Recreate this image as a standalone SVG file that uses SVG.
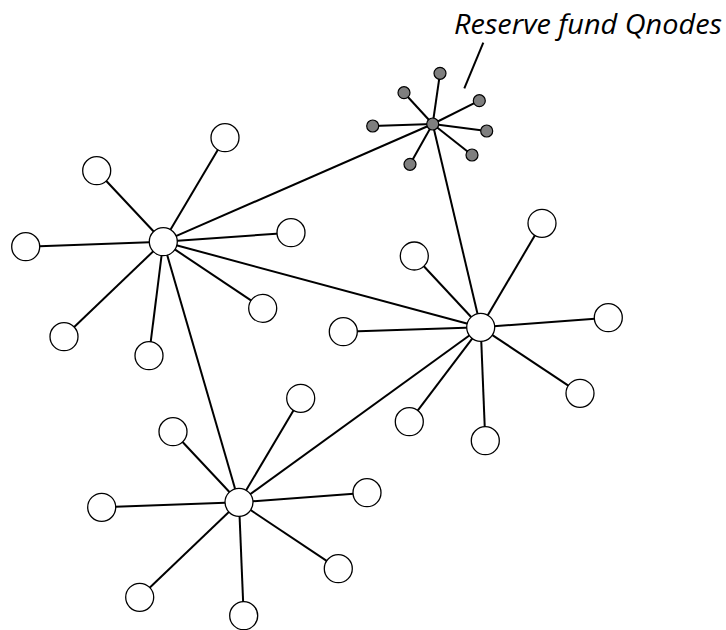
<svg xmlns="http://www.w3.org/2000/svg" width="726" height="630" viewBox="0 0 726 630">
<style>
.e{stroke:#000;stroke-width:2;fill:none}
.n{fill:#fff;stroke:#000;stroke-width:1.3}
.q{fill:#7f7f7f;stroke:#000;stroke-width:1.2}
.lbl{font-family:"Open Sans","Liberation Sans",sans-serif;font-style:italic;font-size:27.5px;fill:#000}
</style>
<rect width="726" height="630" fill="#fff"/>
<g id="connectors">
<line class="e" x1="163.3" y1="241.7" x2="432.7" y2="124"/>
<line class="e" x1="163.3" y1="241.7" x2="480.7" y2="327.3"/>
<line class="e" x1="163.3" y1="241.7" x2="239" y2="502.3"/>
<line class="e" x1="239" y1="502.3" x2="480.7" y2="327.3"/>
<line class="e" x1="432.7" y1="124" x2="480.7" y2="327.3"/>
<line class="e" x1="163.3" y1="241.7" x2="225" y2="137.7"/>
<line class="e" x1="163.3" y1="241.7" x2="96.7" y2="170.7"/>
<line class="e" x1="163.3" y1="241.7" x2="25.7" y2="246.7"/>
<line class="e" x1="163.3" y1="241.7" x2="291" y2="232.7"/>
<line class="e" x1="163.3" y1="241.7" x2="262.7" y2="308.3"/>
<line class="e" x1="163.3" y1="241.7" x2="64" y2="336.7"/>
<line class="e" x1="163.3" y1="241.7" x2="149" y2="355.7"/>
<line class="e" x1="480.7" y1="327.3" x2="542" y2="223.3"/>
<line class="e" x1="480.7" y1="327.3" x2="414.3" y2="256"/>
<line class="e" x1="480.7" y1="327.3" x2="343.3" y2="331.7"/>
<line class="e" x1="480.7" y1="327.3" x2="608.3" y2="317.7"/>
<line class="e" x1="480.7" y1="327.3" x2="580" y2="393.3"/>
<line class="e" x1="480.7" y1="327.3" x2="409.3" y2="421.7"/>
<line class="e" x1="480.7" y1="327.3" x2="485.3" y2="440.7"/>
<line class="e" x1="239" y1="502.3" x2="300.7" y2="398.3"/>
<line class="e" x1="239" y1="502.3" x2="173" y2="431.7"/>
<line class="e" x1="239" y1="502.3" x2="101.7" y2="507.3"/>
<line class="e" x1="239" y1="502.3" x2="367" y2="492.7"/>
<line class="e" x1="239" y1="502.3" x2="338.3" y2="568.7"/>
<line class="e" x1="239" y1="502.3" x2="139.7" y2="597.3"/>
<line class="e" x1="239" y1="502.3" x2="243.7" y2="615.7"/>
<line class="e" x1="432.7" y1="124" x2="440" y2="73.3"/>
<line class="e" x1="432.7" y1="124" x2="404" y2="92.7"/>
<line class="e" x1="432.7" y1="124" x2="372.7" y2="126"/>
<line class="e" x1="432.7" y1="124" x2="479.3" y2="100.7"/>
<line class="e" x1="432.7" y1="124" x2="486.7" y2="131"/>
<line class="e" x1="432.7" y1="124" x2="472" y2="155"/>
<line class="e" x1="432.7" y1="124" x2="410" y2="164.3"/>
<line class="e" x1="483.3" y1="42.7" x2="464.3" y2="88.3"/>
</g>
<g id="hubA"><circle class="n" cx="163.3" cy="241.7" r="14"/></g>
<g id="a1"><circle class="n" cx="225" cy="137.7" r="14"/></g>
<g id="a2"><circle class="n" cx="96.7" cy="170.7" r="14"/></g>
<g id="a3"><circle class="n" cx="25.7" cy="246.7" r="14"/></g>
<g id="a4"><circle class="n" cx="291" cy="232.7" r="14"/></g>
<g id="a5"><circle class="n" cx="262.7" cy="308.3" r="14"/></g>
<g id="a6"><circle class="n" cx="64" cy="336.7" r="14"/></g>
<g id="a7"><circle class="n" cx="149" cy="355.7" r="14"/></g>
<g id="hubB"><circle class="n" cx="480.7" cy="327.3" r="14"/></g>
<g id="b1"><circle class="n" cx="542" cy="223.3" r="14"/></g>
<g id="b2"><circle class="n" cx="414.3" cy="256" r="14"/></g>
<g id="b3"><circle class="n" cx="343.3" cy="331.7" r="14"/></g>
<g id="b4"><circle class="n" cx="608.3" cy="317.7" r="14"/></g>
<g id="b5"><circle class="n" cx="580" cy="393.3" r="14"/></g>
<g id="b6"><circle class="n" cx="409.3" cy="421.7" r="14"/></g>
<g id="b7"><circle class="n" cx="485.3" cy="440.7" r="14"/></g>
<g id="hubC"><circle class="n" cx="239" cy="502.3" r="14"/></g>
<g id="c1"><circle class="n" cx="300.7" cy="398.3" r="14"/></g>
<g id="c2"><circle class="n" cx="173" cy="431.7" r="14"/></g>
<g id="c3"><circle class="n" cx="101.7" cy="507.3" r="14"/></g>
<g id="c4"><circle class="n" cx="367" cy="492.7" r="14"/></g>
<g id="c5"><circle class="n" cx="338.3" cy="568.7" r="14"/></g>
<g id="c6"><circle class="n" cx="139.7" cy="597.3" r="14"/></g>
<g id="c7"><circle class="n" cx="243.7" cy="615.7" r="14"/></g>
<g id="hubQ"><circle class="q" cx="432.7" cy="124" r="6"/></g>
<g id="q1"><circle class="q" cx="440" cy="73.3" r="6"/></g>
<g id="q2"><circle class="q" cx="404" cy="92.7" r="6"/></g>
<g id="q3"><circle class="q" cx="372.7" cy="126" r="6"/></g>
<g id="q4"><circle class="q" cx="479.3" cy="100.7" r="6"/></g>
<g id="q5"><circle class="q" cx="486.7" cy="131" r="6"/></g>
<g id="q6"><circle class="q" cx="472" cy="155" r="6"/></g>
<g id="q7"><circle class="q" cx="410" cy="164.3" r="6"/></g>
<g id="label"><text class="lbl" x="454" y="33.5" textLength="268" lengthAdjust="spacingAndGlyphs">Reserve fund Qnodes</text></g>
</svg>
